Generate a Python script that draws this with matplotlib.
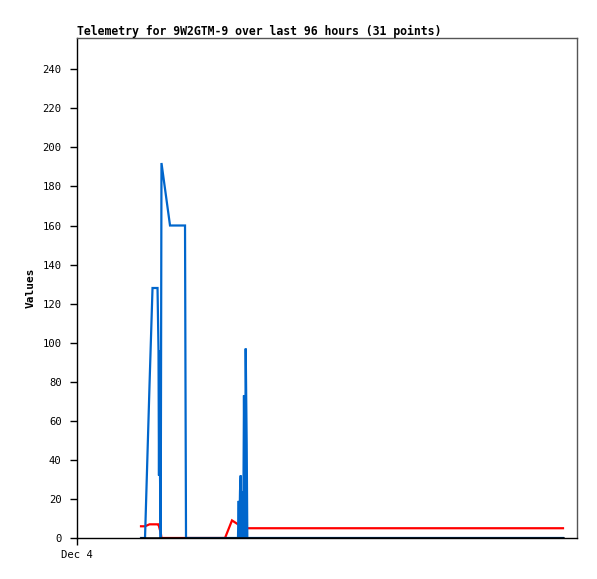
import matplotlib
matplotlib.use("Agg")
import matplotlib.pyplot as plt

# hours since Dec 4 00:00 (axis spans 96 hours)
hours = [12.29, 13.06, 13.92, 14.50, 15.46, 15.65, 15.74, 15.84, 15.94, 16.07,
         16.22, 17.86, 20.74, 20.83, 20.93, 28.42, 29.76, 30.91, 31.05, 31.16,
         31.30, 31.43, 31.58, 31.74, 31.91, 32.06, 32.26, 32.39, 32.58, 32.70,
         93.31]

blue_vals = [0, 0, 78, 128, 128, 96, 32, 96, 32, 0,
             192, 160, 160, 80, 0, 0, 0, 0, 19, 0,
             24, 32, 0, 24, 0, 73, 0, 97, 48, 0,
             0]
red_vals = [6, 6, 7, 7, 7, 7, 6, 5, 4, 3,
            0, 0, 0, 0, 0, 0, 9, 7, 7, 7,
            6, 6, 6, 6, 5, 5, 5, 5, 5, 5,
            5]
black_vals = [0] * 31

x_ticks = [0]
x_labels = ["Dec 4"]
y_ticks = list(range(0, 241, 20))

fig = plt.figure(figsize=(5.97, 5.79), dpi=100)
ax = fig.add_axes([77 / 597, 1 - 538 / 579, 500 / 597, 500 / 579])

ax.plot(hours, red_vals, color="#ff0000", linewidth=1.6, solid_joinstyle="miter")
ax.plot(hours, blue_vals, color="#0066cc", linewidth=1.6, solid_joinstyle="miter")
ax.plot(hours, black_vals, color="black", linewidth=1.8)

ax.set_xlim(0, 96)
ax.set_ylim(0, 256)
ax.set_xticks(x_ticks)
ax.set_xticklabels(x_labels)
ax.set_yticks(y_ticks)

mono = "DejaVu Sans Mono"
for lab in ax.get_xticklabels() + ax.get_yticklabels():
    lab.set_family(mono)
    lab.set_fontsize(7.6)
ax.tick_params(direction="out", length=5, width=1, color="black")
ax.tick_params(axis="y", pad=6)
ax.tick_params(axis="x", pad=4)

ax.spines["left"].set_color("black")
ax.spines["bottom"].set_color("black")
ax.spines["top"].set_color("#555555")
ax.spines["right"].set_color("#555555")
for s in ax.spines.values():
    s.set_linewidth(1)

ax.set_ylabel("Values", family=mono, fontweight="bold", fontsize=8, labelpad=5)
fig.text(77 / 597, 1 - 31 / 579, "Telemetry for 9W2GTM-9 over last 96 hours (31 points)",
         family=mono, fontweight="bold", fontsize=8.3, va="center", ha="left")

fig.savefig("out.png", dpi=100)
